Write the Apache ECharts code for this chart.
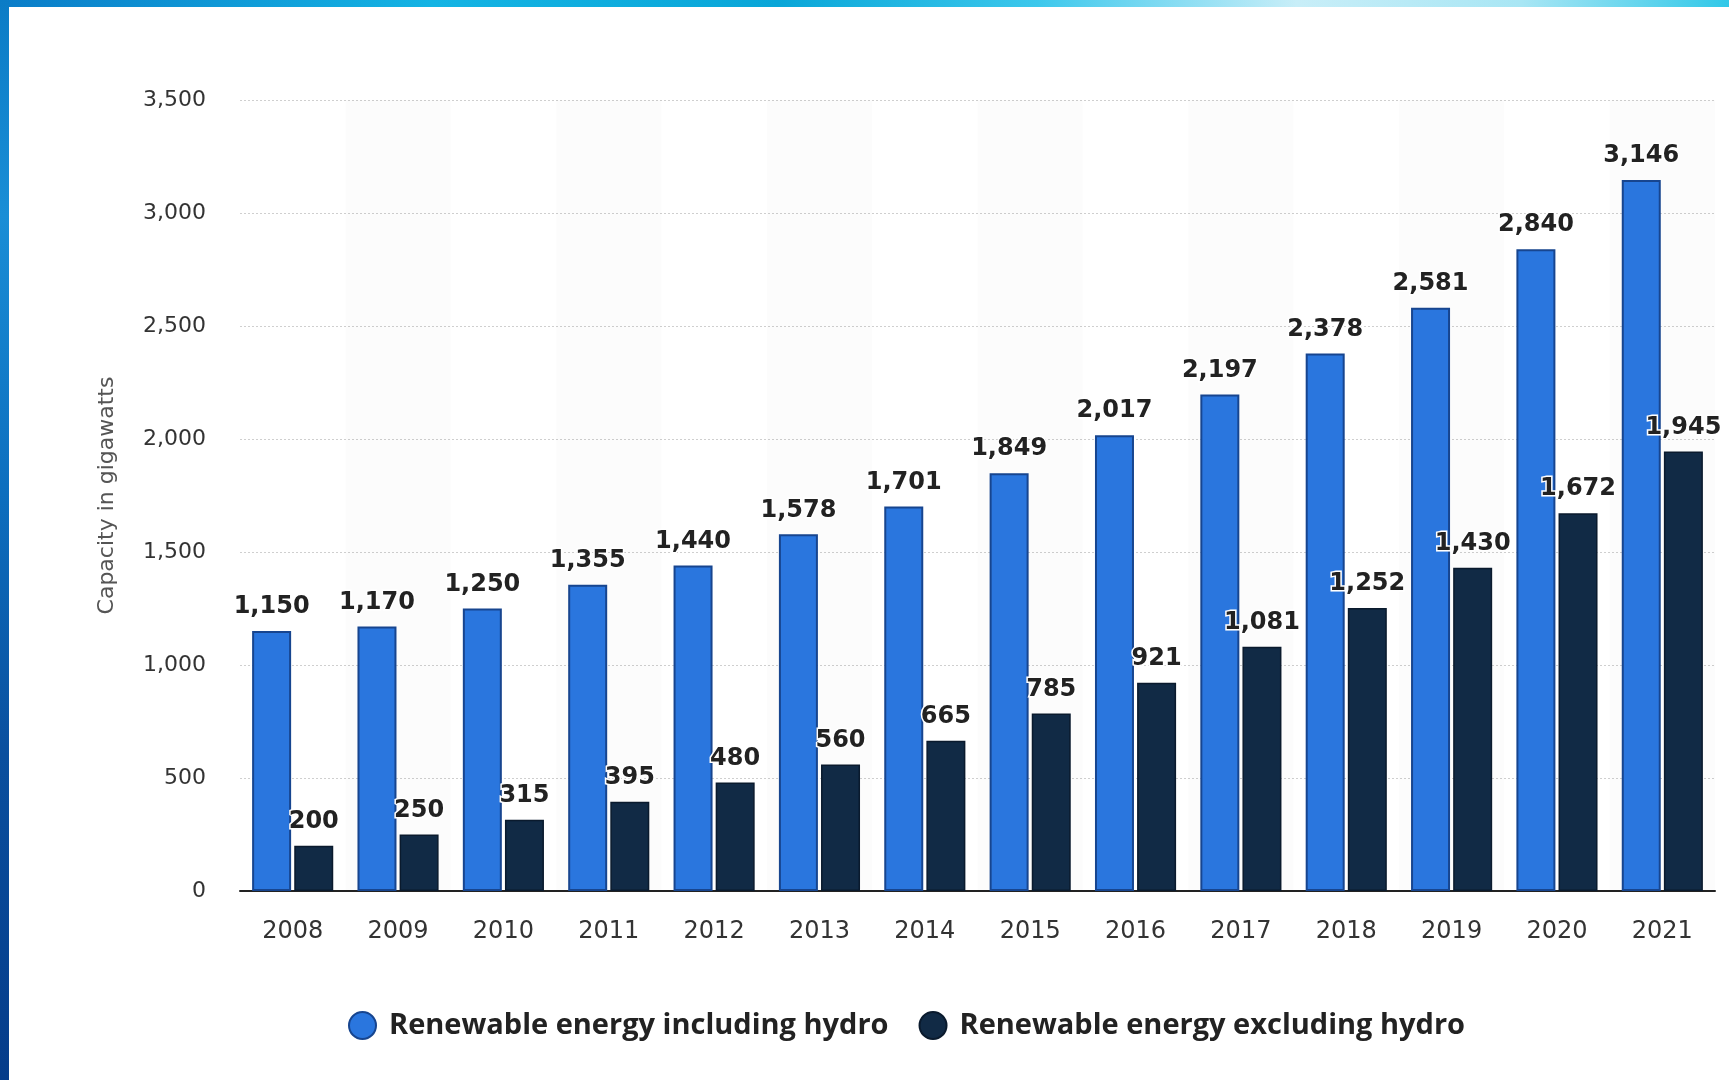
<!DOCTYPE html>
<html>
<head>
<meta charset="utf-8">
<script src="https://cdn.jsdelivr.net/npm/echarts@6/dist/echarts.min.js"></script>
<style>
  html, body { margin: 0; padding: 0; width: 1729px; height: 1080px; overflow: hidden; background: #fff; }
  #frameTop { position: absolute; left: 0; top: 0; width: 1729px; height: 7px;
    background: linear-gradient(90deg, #0a7cc8 0%, #14b4e4 25%, #09a6d8 45%, #3cc8ec 60%, #c8eef8 75%, #a8e6f4 88%, #30c8e8 100%); }
  #frameLeft { position: absolute; left: 0; top: 0; width: 9px; height: 1080px;
    background: linear-gradient(180deg, #0b7cc6 0%, #1a8ed6 20%, #0d6fbf 45%, #0a4f9e 70%, #053c8a 100%); }
  #chart { position: absolute; left: 0; top: 0; width: 1729px; height: 1080px; }
</style>
</head>
<body>
<div id="chart"></div>
<div id="frameTop"></div>
<div id="frameLeft"></div>
<script>
const years = ['2008', '2009', '2010', '2011', '2012', '2013', '2014', '2015', '2016', '2017', '2018', '2019', '2020', '2021'];
const includingHydro = [1150, 1170, 1250, 1355, 1440, 1578, 1701, 1849, 2017, 2197, 2378, 2581, 2840, 3146];
const excludingHydro = [200, 250, 315, 395, 480, 560, 665, 785, 921, 1081, 1252, 1430, 1672, 1945];
const seriesNames = ['Renewable energy including hydro', 'Renewable energy excluding hydro'];
const axisTitle = 'Capacity in gigawatts';

const fmt = v => v.toLocaleString('en-US');

const chart = echarts.init(document.getElementById('chart'), null, { renderer: 'canvas' });

const valueLabel = {
  show: true,
  position: 'top',
  distance: 12,
  formatter: p => fmt(p.value),
  fontFamily: 'DejaVu Sans',
  fontWeight: 'bold',
  fontSize: 24,
  color: '#222',
  textBorderColor: '#fff',
  textBorderWidth: 3
};

chart.setOption({
  animation: false,
  backgroundColor: '#fff',
  grid: { left: 240, right: 14, top: 100, bottom: 189 },
  legend: {
    bottom: 35,
    left: 343,
    itemWidth: 27,
    itemHeight: 27,
    itemGap: 30,
    icon: 'circle',
    textStyle: { fontFamily: 'Open Sans', fontWeight: 'bold', fontSize: 29, color: '#222', padding: [0, 0, 0, 8] },
    data: seriesNames
  },
  xAxis: {
    type: 'category',
    data: years,
    axisLine: { lineStyle: { color: '#222', width: 2 } },
    axisTick: { show: false },
    axisLabel: { fontFamily: 'DejaVu Sans', fontSize: 24, color: '#333', margin: 29 },
    splitArea: { show: true, areaStyle: { color: ['rgba(255,255,255,0)', 'rgba(0,0,0,0.012)'] } }
  },
  yAxis: {
    type: 'value',
    min: 0,
    max: 3500,
    interval: 500,
    name: axisTitle,
    nameLocation: 'middle',
    nameGap: 122,
    nameTextStyle: { fontFamily: 'DejaVu Sans', fontSize: 22, color: '#555' },
    axisLine: { show: false },
    axisTick: { show: false },
    axisLabel: { fontFamily: 'DejaVu Sans', fontSize: 22, color: '#333', margin: 34, formatter: v => fmt(v) },
    splitLine: { lineStyle: { color: '#cfcfcf', type: [2, 2], width: 1 } }
  },
  series: [
    {
      name: seriesNames[0],
      type: 'bar',
      data: includingHydro,
      barWidth: 39,
      barGap: '8%',
      itemStyle: { color: '#2a76de', borderColor: '#17458f', borderWidth: 2 },
      label: valueLabel
    },
    {
      name: seriesNames[1],
      type: 'bar',
      data: excludingHydro,
      barWidth: 39,
      itemStyle: { color: '#112a45', borderColor: '#0a1a2d', borderWidth: 1.5 },
      label: valueLabel
    }
  ]
});
</script>
</body>
</html>
